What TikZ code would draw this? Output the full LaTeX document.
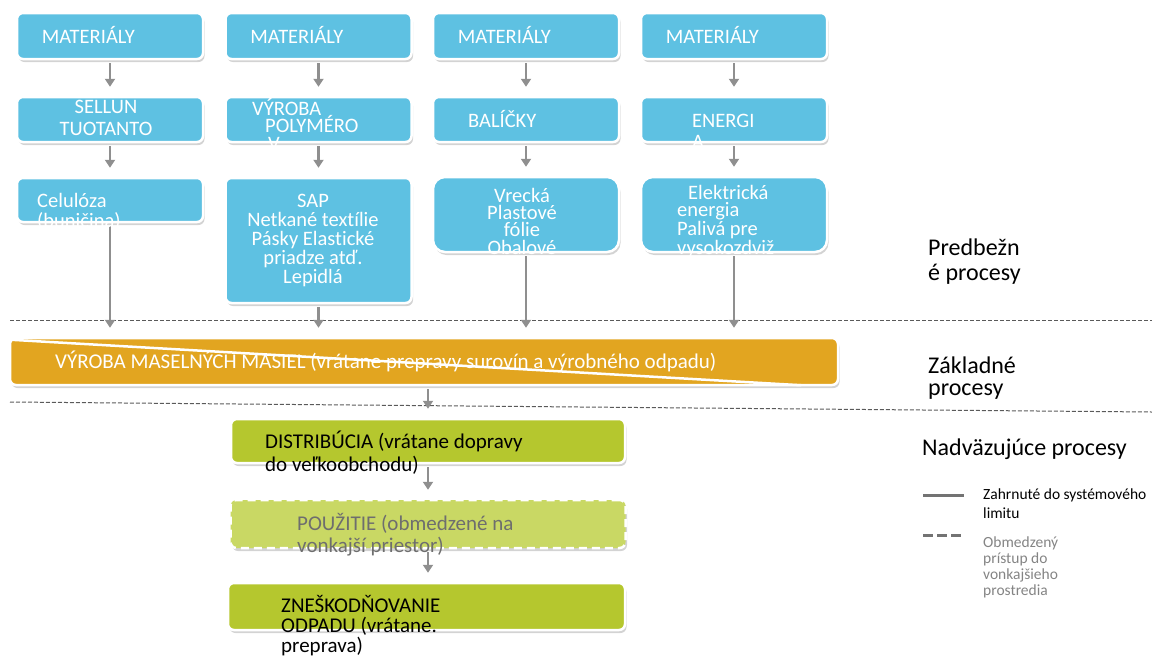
\documentclass[tikz,border=0pt]{standalone}
\usepackage{fontspec}
\setmainfont{Carlito}[Ligatures=NoCommon]
\usetikzlibrary{positioning, shapes.misc, arrows.meta, calc, shadows}
\definecolor{lcablue}{HTML}{5EC1E2}
\definecolor{lcaorange}{HTML}{E2A520}
\definecolor{lcagreen}{HTML}{B5C72E}
\definecolor{lcalight}{HTML}{C9D864}
\definecolor{lcaarrow}{HTML}{8F8F8F}
\definecolor{lcaline}{HTML}{5A5A5A}
\definecolor{lcatext}{HTML}{6E6E6E}
\newcommand{\boxfont}{\fontsize{20.5}{19}\selectfont}
\newcommand{\sidefont}{\fontsize{24}{25}\selectfont}
\newcommand{\keyfont}{\fontsize{15.5}{16}\selectfont}

\begin{document}
\begin{tikzpicture}[x=1pt, y=-1pt,
    stage/.style={rectangle, rounded corners=6pt,
      draw=white, line width=2.5pt, inner sep=0pt,
      drop shadow={shadow xshift=1.5pt, shadow yshift=-3pt, opacity=0.35}},
    bluebox/.style={stage, fill=lcablue, minimum width=186pt},
    flow/.style={draw=lcaarrow, line width=2.5pt, -{Triangle[width=10pt, length=8pt]},
      shorten <=3pt, shorten >=9pt},
    intext/.style={text=white, inner sep=0pt},
    limit/.style={lcaline, line width=1pt, dash pattern=on 4pt off 2pt}]
  \useasboundingbox (0,0) rectangle (1152,657);

  % boundaries between the stages
  \draw[limit] (10,320) -- (1152,320);
  \draw[limit] (10,402) -- (1152,412);

  % upstream columns
  \foreach \x/\n in {110/1, 318.5/2, 526/3, 734/4}
    \node[bluebox, minimum height=46pt] (mat\n) at (\x,36) {};
  \node[bluebox, minimum height=45pt] (stg1) at (110,119.5) {};
  \node[bluebox, minimum height=45pt] (stg2) at (318.5,119.5) {};
  \node[bluebox, minimum height=45pt] (stg3) at (526,119.5) {};
  \node[bluebox, minimum height=45pt] (stg4) at (734,119.5) {};
  \node[bluebox, minimum height=44pt] (out1) at (110,200) {};
  \node[bluebox, minimum height=125pt] (out2) at (318.5,240.5) {};
  \node[bluebox, rounded corners=12pt, minimum height=75pt] (out3) at (526,214.5) {};
  \node[bluebox, rounded corners=12pt, minimum height=75pt] (out4) at (734,214.5) {};

  % core process
  \node[stage, fill=lcaorange, minimum width=828pt, minimum height=47pt] (prod) at (424,361.5) {};
  \draw[white, line width=2.5pt] ($(prod.north west)+(2,3)$) -- ($(prod.south east)+(-38,-1)$);

  % downstream
  \node[stage, fill=lcagreen, minimum width=394pt, minimum height=44pt] (dist) at (428,441) {};
  \node[stage, fill=lcalight, dash pattern=on 8pt off 5pt, minimum width=395pt, minimum height=48pt] (use) at (428,524) {};
  \node[stage, fill=lcagreen, minimum width=397pt, minimum height=47pt] (waste) at (426.5,606.5) {};

  \foreach \n in {1,...,4} {
    \draw[flow] (mat\n.south) -- (stg\n.north);
    \draw[flow] (stg\n.south) -- (out\n.north);
    \draw[flow] (out\n.south) -- (out\n.south |- prod.north);
  }
  \draw[flow] (dist.north |- prod.south) -- (dist.north);
  \draw[flow] (dist.south) -- (use.north);
  \draw[flow] (use.south) -- (use.south |- waste.north);

  % texts in the boxes (base = last line)
  \foreach \n in {1,...,4}
    \node[intext, font=\boxfont, anchor=base west] (matt\n) at ($(mat\n.west)+(26,7)$) {MATERIÁLY};
  \node[intext, font=\fontsize{20.5}{22}\selectfont, anchor=base, align=center] (stgt1) at (106,135) {SELLUN\\TUOTANTO};
  \node[intext, font=\fontsize{20.5}{17.5}\selectfont, anchor=base west, align=left] (stgt2) at (252,150)
    {VÝROBA\\\hspace*{13pt}POLYMÉRO\\\hspace*{16pt}V};
  \node[intext, font=\boxfont, anchor=base west] (stgt3) at (468,127) {BALÍČKY};
  \node[intext, font=\fontsize{20.5}{21}\selectfont, anchor=base west, align=left] (stgt4) at (692,148) {ENERGI\\A};
  \node[intext, font=\fontsize{20.5}{20}\selectfont, anchor=base west, align=left] (outt1) at (37,227) {Celulóza\\(buničina)};
  \node[intext, font=\boxfont, anchor=base, align=center] (outt2) at (313,283)
    {SAP\\Netkané textílie\\Pásky Elastické\\priadze atď.\\Lepidlá};
  \node[intext, font=\fontsize{20.5}{17.3}\selectfont, anchor=base, align=center] (outt3) at (522,254)
    {Vrecká\\Plastové\\fólie\\Obalové};
  \node[intext, font=\fontsize{20.5}{17.3}\selectfont, anchor=base west, align=left] (outt4) at (677,254)
    {\hspace*{11pt}Elektrická\\energia\\Palivá pre\\vysokozdviž};
  \node[intext, font=\fontsize{21}{22}\selectfont, anchor=base west] (prodt) at (55,368)
    {VÝROBA MASELNÝCH MASIEL (vrátane prepravy surovín a výrobného odpadu)};
  \node[inner sep=0pt, font=\fontsize{21}{23}\selectfont, anchor=base west, align=left] (distt) at (265,471)
    {DISTRIBÚCIA (vrátane dopravy\\do veľkoobchodu)};
  \node[inner sep=0pt, text=lcatext, font=\fontsize{21}{22}\selectfont, anchor=base west, align=left] (uset) at (297,552)
    {POUŽITIE (obmedzené na\\vonkajší priestor)};
  \node[inner sep=0pt, font=\fontsize{21}{20}\selectfont, anchor=base west, align=left] (wastet) at (281,652)
    {ZNEŠKODŇOVANIE\\ODPADU (vrátane.\\preprava)};

  % stage names on the right
  \node[inner sep=0pt, font=\sidefont, anchor=base west, align=left] (upname) at (928,280) {Predbežn\\é procesy};
  \node[inner sep=0pt, font=\fontsize{24}{22}\selectfont, anchor=base west, align=left] (corename) at (928,395) {Základné\\procesy};
  \node[inner sep=0pt, font=\sidefont, anchor=base west] (downname) at (922,455) {Nadväzujúce procesy};

  % key
  \draw[lcaline!85, line width=3pt] (923,495) -- (964,495);
  \node[inner sep=0pt, font=\fontsize{15.5}{19}\selectfont, anchor=base west, align=left] (keyin) at (983,518)
    {Zahrnuté do systémového\\limitu};
  \draw[lcaline!85, line width=3pt, dash pattern=on 10pt off 4pt] (923,535) -- (964,535);
  \node[inner sep=0pt, text=lcatext!85, font=\keyfont, anchor=base west, align=left] (keyout) at (983,595)
    {Obmedzený\\prístup do\\vonkajšieho\\prostredia};
\end{tikzpicture}
\end{document}
